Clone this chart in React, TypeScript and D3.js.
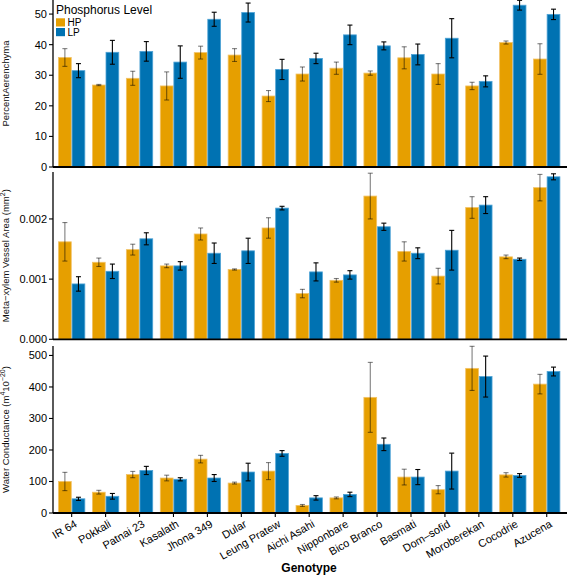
import React from "react";
import * as d3 from "d3";

const genotypes = ["IR 64","Pokkali","Patnai 23","Kasalath","Jhona 349","Dular","Leung Pratew","Aichi Asahi","Nipponbare","Bico Branco","Basmati","Dom–sofid","Moroberekan","Cocodrie","Azucena"];

const aerHP = [35.8,26.8,29.0,26.5,37.4,36.6,23.2,30.4,32.3,30.7,35.7,30.4,26.5,40.7,35.3];
const aerHPse = [2.9,0.2,2.3,4.6,2.1,2.1,1.8,2.3,2.0,0.7,3.6,3.4,1.2,0.5,5.0];
const aerLP = [31.5,37.5,37.8,34.3,48.3,50.5,31.9,35.5,43.2,39.6,36.8,42.1,28.0,52.9,49.9];
const aerLPse = [2.3,3.9,3.2,5.3,2.3,3.1,3.3,1.7,3.2,1.3,3.4,6.4,1.8,1.6,1.7];

const vesHP = [0.00162,0.00128,0.00149,0.00122,0.00175,0.00116,0.00185,0.00076,0.00098,0.00238,0.00146,0.00105,0.00219,0.00137,0.00252];
const vesHPse = [0.00032,0.00007,0.00009,0.00003,0.0001,0.00001,0.00017,0.00007,0.00003,0.00038,0.00016,0.00013,0.00018,0.00003,0.00022];
const vesLP = [0.00092,0.00113,0.00167,0.00122,0.00143,0.00147,0.00218,0.00112,0.00107,0.00187,0.00143,0.00148,0.00223,0.00133,0.0027];
const vesLPse = [0.00012,0.00012,0.0001,0.00007,0.00017,0.00021,0.00003,0.00015,0.00007,0.00006,0.00009,0.00033,0.00014,0.00002,0.00005];

const condHP = [100,66,122,111,171,95,133,24,48,367,114,74,459,121,409];
const condHPse = [29,6,10,9,12,3,27,3,3,111,25,13,70,7,31];
const condLP = [45,53,135,107,111,130,189,48,59,218,114,133,433,119,449];
const condLPse = [5,9,13,5,11,28,9,7,7,20,24,57,65,6,14];

const aerTicks = [0,10,20,30,40,50];
const aerTickLabels = ["0","10","20","30","40","50"];
const vesTicks = [0,0.001,0.002];
const vesTickLabels = ["0.000","0.001","0.002"];
const condTicks = [0,100,200,300,400,500];
const condTickLabels = ["0","100","200","300","400","500"];

const levels = ["HP","LP"];
const colors: Record<string,string> = { HP: "#E69F00", LP: "#0072B2" };
const strokes: Record<string,string> = { HP: "#F2C266", LP: "#4FA3D6" };
const errColors: Record<string,string> = { HP: "rgba(0,0,0,0.5)", LP: "#000" };

const FONT = "'Liberation Sans', Arial, Helvetica, sans-serif";

const panels = [
  { top: 0, bottom: 167, max: 54.6, hp: aerHP, hpse: aerHPse, lp: aerLP, lpse: aerLPse, ticks: aerTicks, labels: aerTickLabels, title: "aer" },
  { top: 172, bottom: 339.3, max: 0.00278, hp: vesHP, hpse: vesHPse, lp: vesLP, lpse: vesLPse, ticks: vesTicks, labels: vesTickLabels, title: "ves" },
  { top: 346, bottom: 513, max: 530, hp: condHP, hpse: condHPse, lp: condLP, lpse: condLPse, ticks: condTicks, labels: condTickLabels, title: "cond" },
];

const AXIS_X = 53;

function Title({ kind, cy }: { kind: string; cy: number }) {
  const common = { fontFamily: FONT, fontSize: 9.5, fill: "#111", textAnchor: "middle" as const };
  if (kind === "aer") {
    return <text transform={`translate(9,${cy}) rotate(-90)`} {...common}>PercentAerenchyma</text>;
  }
  if (kind === "ves") {
    return (
      <text transform={`translate(9,${cy}) rotate(-90)`} {...common}>
        Meta−xylem Vessel Area (mm<tspan dy={-4} fontSize={7}>2</tspan><tspan dy={4}>)</tspan>
      </text>
    );
  }
  return (
    <text transform={`translate(9,${cy}) rotate(-90)`} {...common}>
      Water Conductance (m<tspan dy={-4} fontSize={7}>4</tspan><tspan dy={4}>10</tspan><tspan dy={-4} fontSize={7}>−20</tspan><tspan dy={4}>)</tspan>
    </text>
  );
}

export default function App() {
  const W = 567, H = 575;
  const x = d3.scaleBand<string>().domain(genotypes).range([54.7, 563.7]).paddingInner(0.2).paddingOuter(0.1);
  const sub = d3.scaleBand<string>().domain(levels).range([0, x.bandwidth()]);
  const capW = 5;

  return (
    <svg width={W} height={H} style={{ position: "absolute", left: 0, top: 0, background: "#fff" }}>
      {panels.map((p, pi) => {
        const y = d3.scaleLinear().domain([0, p.max]).range([p.bottom, p.top]);
        const series: Record<string, { v: number[]; se: number[] }> = {
          HP: { v: p.hp, se: p.hpse },
          LP: { v: p.lp, se: p.lpse },
        };
        return (
          <g key={pi}>
            {genotypes.map((g, i) =>
              levels.map((lv) => {
                const v = series[lv].v[i];
                const bx = (x(g) as number) + (sub(lv) as number);
                return (
                  <rect key={g + lv} x={bx + 0.4} y={y(v)} width={sub.bandwidth() - 0.8} height={y(0) - y(v)}
                    fill={colors[lv]} stroke={strokes[lv]} strokeWidth={0.8} />
                );
              })
            )}
            {genotypes.map((g, i) =>
              levels.map((lv) => {
                const v = series[lv].v[i];
                const se = series[lv].se[i];
                const cx = (x(g) as number) + (sub(lv) as number) + sub.bandwidth() / 2;
                const y1 = y(v + se), y2 = y(v - se);
                return (
                  <g key={"e" + g + lv} stroke={errColors[lv]} strokeWidth={1.1}>
                    <line x1={cx} x2={cx} y1={y1} y2={y2} />
                    <line x1={cx - capW / 2} x2={cx + capW / 2} y1={y1} y2={y1} />
                    <line x1={cx - capW / 2} x2={cx + capW / 2} y1={y2} y2={y2} />
                  </g>
                );
              })
            )}
            <line x1={AXIS_X} x2={AXIS_X} y1={p.top} y2={p.bottom} stroke="#000" strokeWidth={1.3} />
            {p.ticks.map((t, ti) => (
              <g key={"t" + ti}>
                <line x1={AXIS_X - 4} x2={AXIS_X} y1={y(t)} y2={y(t)} stroke="#000" strokeWidth={1.1} />
                <text x={AXIS_X - 6} y={y(t) + 4} textAnchor="end" fontFamily={FONT} fontSize={11} fill="#000">{p.labels[ti]}</text>
              </g>
            ))}
            <line x1={AXIS_X} x2={W} y1={p.bottom} y2={p.bottom} stroke="#000" strokeWidth={1.8} />
            <Title kind={p.title} cy={(p.top + p.bottom) / 2} />
          </g>
        );
      })}
      {genotypes.map((g) => {
        const cx = (x(g) as number) + x.bandwidth() / 2;
        return (
          <g key={"xt" + g}>
            <line x1={cx} x2={cx} y1={513} y2={517} stroke="#000" strokeWidth={1.1} />
            <text transform={`translate(${cx + 2},${519}) rotate(-30)`} textAnchor="end" dy="0.75em"
              fontFamily={FONT} fontSize={11} fill="#000">{g}</text>
          </g>
        );
      })}
      <text x={309} y={572} textAnchor="middle" fontFamily={FONT} fontSize={12} fontWeight="bold" fill="#000">Genotype</text>
      <g>
        <text x={56} y={13.5} fontFamily={FONT} fontSize={12} fill="#000">Phosphorus Level</text>
        {levels.map((lv, i) => (
          <g key={"lg" + lv}>
            <rect x={56} y={18.3 + i * 9.7} width={9} height={8.2} fill={colors[lv]} />
            <text x={67.5} y={26 + i * 9.7} fontFamily={FONT} fontSize={10} fill="#000">{lv}</text>
          </g>
        ))}
      </g>
    </svg>
  );
}
